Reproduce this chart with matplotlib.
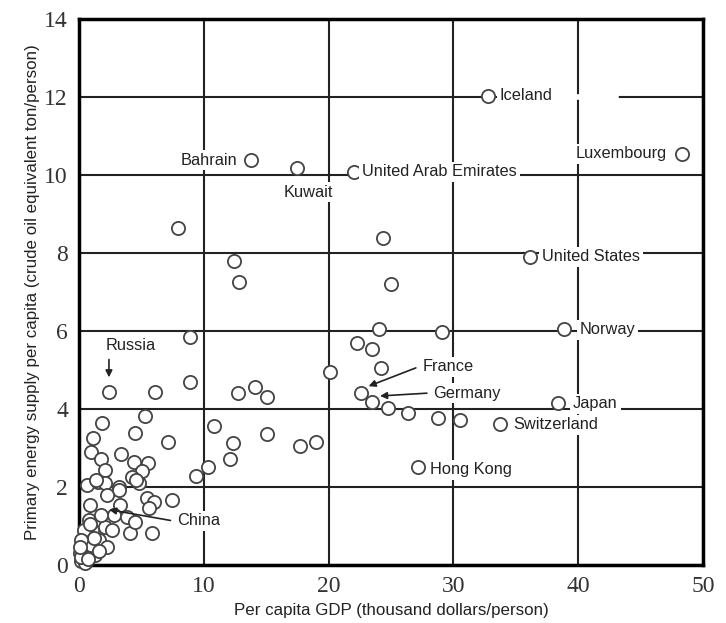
import matplotlib.pyplot as plt
import matplotlib.font_manager as fm

# labelled countries
paises = ["Iceland", "Luxembourg", "Bahrain", "Kuwait", "United Arab Emirates",
          "United States", "Norway", "France", "Germany", "Japan", "Switzerland",
          "Hong Kong", "Russia", "China"]
pib_paises = [32.8, 48.3, 13.8, 17.5, 22.0, 36.1, 38.9, 22.6, 23.5, 38.4, 33.7, 27.2, 2.4, 1.8]
energia_paises = [12.03, 10.54, 10.38, 10.18, 10.08, 7.9, 6.05, 4.41, 4.18, 4.15, 3.62, 2.51, 4.44, 1.28]

# other countries (no label)
pib = [7.96, 12.45, 12.85, 24.4, 25.0, 8.9, 24.0, 29.1, 22.3, 23.45, 20.1, 24.2, 24.8, 26.4,
       28.8, 30.5, 6.09, 8.9, 12.77, 14.1, 15.04, 10.85, 7.1, 12.37, 12.1, 15.1, 17.7, 19.0,
       10.3, 9.4, 5.26, 1.84, 4.51, 1.1, 0.99, 1.79, 3.39, 4.38, 5.5, 2.06, 5.05, 0.64, 1.52,
       2.1, 4.25, 4.78, 3.18, 1.4, 4.6, 3.18, 2.24, 5.45, 6.0, 7.45, 5.58, 0.9, 3.3, 2.78,
       3.85, 0.78, 1.58, 2.1, 4.1, 5.85, 2.64, 1.04, 1.58, 2.24, 0.5, 0.24, 0.9, 0.38, 0.1,
       1.3, 0.64, 4.5, 0.2, 0.5, 0.3, 0.6, 0.15, 1.0, 0.4, 0.75, 1.2, 0.2, 1.6, 0.9, 0.05]
energia = [8.65, 7.79, 7.26, 8.38, 7.2, 5.84, 6.04, 5.98, 5.70, 5.53, 4.96, 5.04, 4.03, 3.9,
           3.76, 3.72, 4.44, 4.68, 4.40, 4.56, 4.32, 3.57, 3.16, 3.14, 2.71, 3.35, 3.05, 3.16,
           2.5, 2.28, 3.82, 3.65, 3.38, 3.25, 2.91, 2.71, 2.85, 2.65, 2.61, 2.44, 2.42, 2.06, 2.14,
           2.09, 2.25, 2.09, 2.0, 2.18, 2.18, 1.92, 1.79, 1.71, 1.62, 1.67, 1.45, 1.54, 1.54, 1.28,
           1.24, 1.15, 1.11, 0.98, 0.81, 0.81, 0.9, 0.9, 0.64, 0.47, 0.6, 0.38, 0.43, 0.17, 0.3,
           0.26, 0.31, 1.11, 0.1, 0.05, 0.5, 0.8, 0.2, 0.5, 0.9, 0.15, 0.7, 0.65, 0.35, 1.05, 0.45]

# where each label goes
pos_texto = {
    "Iceland": (33.7, 12.03, "left"),
    "Luxembourg": (47.1, 10.54, "right"),
    "Bahrain": (12.7, 10.38, "right"),
    "Kuwait": (18.35, 9.56, "center"),
    "United Arab Emirates": (22.7, 10.08, "left"),
    "United States": (37.1, 7.9, "left"),
    "Norway": (40.1, 6.03, "left"),
    "France": (27.5, 5.08, "left"),
    "Germany": (28.4, 4.41, "left"),
    "Japan": (39.6, 4.13, "left"),
    "Switzerland": (34.8, 3.59, "left"),
    "Hong Kong": (28.1, 2.44, "left"),
    "Russia": (2.1, 5.64, "left"),
    "China": (7.85, 1.13, "left"),
}
setas = ["France", "Germany", "Russia", "China"]

nomes = {f.name for f in fm.fontManager.ttflist}
fonte_label = "Liberation Sans Narrow" if "Liberation Sans Narrow" in nomes else "Liberation Sans"
tam_label = 13 if fonte_label == "Liberation Sans Narrow" else 11.8
tam_eixo = 13 if fonte_label == "Liberation Sans Narrow" else 12.2

fig = plt.figure(figsize=(7.26, 6.23), dpi=100)
ax = fig.add_axes([0.1088, 0.0931, 0.8595, 0.8764])

ax.set_xlim(0, 50)
ax.set_ylim(0, 14)
ax.set_xticks(range(0, 51, 10))
ax.set_yticks(range(0, 15, 2))
ax.grid(True, color="#222222", linewidth=1.5)
ax.set_axisbelow(True)
ax.tick_params(length=0, pad=8)
for lab in ax.get_xticklabels() + ax.get_yticklabels():
    lab.set_fontfamily("Liberation Serif")
    lab.set_fontsize(17)
    lab.set_color("#333333")
for s in ax.spines.values():
    s.set_linewidth(2.5)

ax.plot(pib, energia, "o", markersize=9.5, markerfacecolor="white",
        markeredgecolor="#444444", markeredgewidth=1.3, linestyle="none", zorder=3, clip_on=False)
ax.plot(pib_paises, energia_paises, "o", markersize=9.5, markerfacecolor="white",
        markeredgecolor="#444444", markeredgewidth=1.3, linestyle="none", zorder=3, clip_on=False)

for i, p in enumerate(paises):
    tx, ty, ha = pos_texto[p]
    caixa = dict(facecolor="white", edgecolor="none", pad=2)
    ax.text(tx, ty, p, ha=ha, va="center", fontsize=tam_label, family=fonte_label,
            color="#222222", bbox=caixa, zorder=4)
    if p in setas:
        if p == "Russia":
            ax.annotate("", xy=(pib_paises[i], energia_paises[i] + 0.3), xytext=(pib_paises[i], ty - 0.3),
                        arrowprops=dict(arrowstyle="-|>", color="#222222", lw=1.2, mutation_scale=10), zorder=4)
        else:
            ax.annotate("", xy=(pib_paises[i] + 0.4, energia_paises[i] + 0.15), xytext=(tx - 0.3, ty),
                        arrowprops=dict(arrowstyle="-|>", color="#222222", lw=1.2, mutation_scale=10), zorder=4)

# faixa branca depois de Iceland (linha de grade interrompida)
ax.plot([37.5, 43.0], [12, 12], color="white", linewidth=4, zorder=2)

ax.set_xlabel("Per capita GDP (thousand dollars/person)", family=fonte_label, fontsize=tam_eixo,
              color="#222222", labelpad=4)
ax.set_ylabel("Primary energy supply per capita (crude oil equivalent ton/person)", family=fonte_label,
              fontsize=tam_eixo, color="#222222", labelpad=3)

plt.savefig("out.png", dpi=100)
